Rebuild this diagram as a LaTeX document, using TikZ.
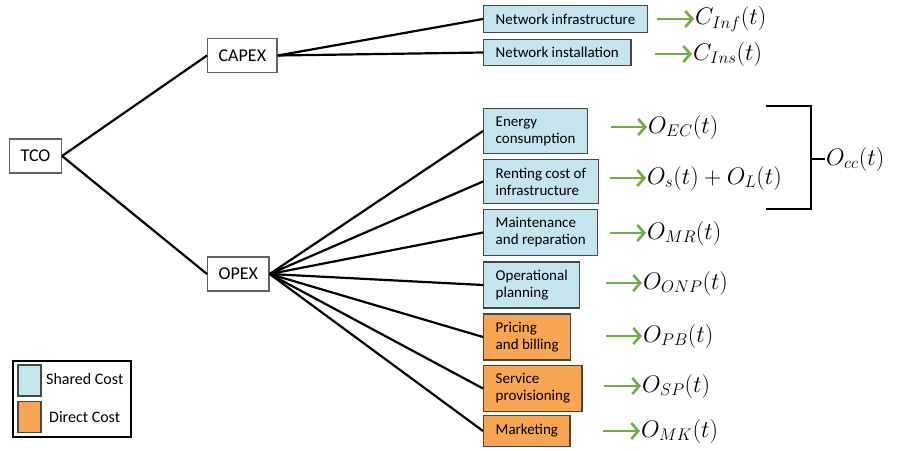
\RequirePackage{fix-cm}
\documentclass[tikz,border=0pt]{standalone}
\usepackage{fontspec}
\setmainfont{Carlito}
\usetikzlibrary{arrows.meta}
\definecolor{sharedBlue}{RGB}{198, 228, 238}
\definecolor{directOrange}{RGB}{248, 166, 84}
\definecolor{arrowGreen}{RGB}{112, 173, 71}
\definecolor{boxBorder}{RGB}{70, 70, 70}

\begin{document}
\begin{tikzpicture}[x=1pt, y=-1pt,
    rootbox/.style={draw=boxBorder!85, line width=1.3pt, fill=white, anchor=west, font=\fontsize{18}{21}\selectfont, inner xsep=11pt, minimum height=34pt},
    costbox/.style={draw=boxBorder, line width=1.4pt, anchor=west, align=left, font=\fontsize{15}{17}\selectfont, inner xsep=12pt, inner ysep=8pt},
    shared/.style={costbox, fill=sharedBlue},
    direct/.style={costbox, fill=directOrange},
    branch/.style={line width=2.2pt},
    formula/.style={anchor=west, inner sep=1pt, font=\fontsize{24}{28}\selectfont},
    toformula/.style={arrowGreen, line width=2.6pt, -{Straight Barb[length=7pt,width=16pt]}},
    swatch/.style={draw=boxBorder, line width=1.2pt, minimum width=23pt, minimum height=31pt}]
    \useasboundingbox (0,0) rectangle (899,450);

    % Root and cost types
    \node[rootbox] (tco) at (9,156) {TCO};
    \node[rootbox] (capex) at (207,55.5) {CAPEX};
    \node[rootbox] (opex) at (207,274) {OPEX};

    % CAPEX items
    \node[shared] (inf) at (483,19) {Network infrastructure};
    \node[shared] (ins) at (483,52.5) {Network installation};

    % OPEX items
    \node[shared] (ec) at (483,131) {Energy\\consumption};
    \node[shared] (rent) at (483,181.5) {Renting cost of\\infrastructure};
    \node[shared] (mr) at (483,232.5) {Maintenance\\and reparation};
    \node[shared] (onp) at (483,285) {Operational\\planning};
    \node[direct] (pb) at (483,337) {Pricing\\and billing};
    \node[direct] (sp) at (483,388.5) {Service\\provisioning};
    \node[direct, minimum height=31pt] (mk) at (483,431) {Marketing};

    % Branches
    \draw[branch] (tco.east) -- (capex.west);
    \draw[branch] (tco.east) -- (opex.west);
    \draw[branch] (capex.east) -- (inf.west);
    \draw[branch] (capex.east) -- (ins.west);
    \draw[branch] (opex.east) -- (ec.west);
    \draw[branch] (opex.east) -- (rent.west);
    \draw[branch] (opex.east) -- (mr.west);
    \draw[branch] (opex.east) -- (onp.west);
    \draw[branch] (opex.east) -- (pb.west);
    \draw[branch] (opex.east) -- (sp.west);
    \draw[branch] (opex.east) -- (mk.west);

    % Cost functions
    \node[formula] (fInf) at (694,19) {$C_{Inf}(t)$};
    \node[formula] (fIns) at (692,54) {$C_{Ins}(t)$};
    \node[formula] (fEC) at (647,127) {$O_{EC}(t)$};
    \node[formula] (fSL) at (646,178) {$O_s(t)+O_L(t)$};
    \node[formula] (fMR) at (646,233) {$O_{MR}(t)$};
    \node[formula] (fONP) at (642,283) {$O_{ONP}(t)$};
    \node[formula] (fPB) at (642,336) {$O_{PB}(t)$};
    \node[formula] (fSP) at (641,386) {$O_{SP}(t)$};
    \node[formula] (fMK) at (640,431) {$O_{MK}(t)$};

    \coordinate (aInf) at (657,19);
    \coordinate (aIns) at (655,54);
    \coordinate (aEC) at (611,127);
    \coordinate (aSL) at (610,178);
    \coordinate (aMR) at (610,233);
    \coordinate (aONP) at (606,283);
    \coordinate (aPB) at (606,336);
    \coordinate (aSP) at (604,386);
    \coordinate (aMK) at (603,431);

    \draw[toformula] (aInf) -- (fInf.west);
    \draw[toformula] (aIns) -- (fIns.west);
    \draw[toformula] (aEC) -- (fEC.west);
    \draw[toformula] (aSL) -- (fSL.west);
    \draw[toformula] (aMR) -- (fMR.west);
    \draw[toformula] (aONP) -- (fONP.west);
    \draw[toformula] (aPB) -- (fPB.west);
    \draw[toformula] (aSP) -- (fSP.west);
    \draw[toformula] (aMK) -- (fMK.west);

    % Bracket for the common cost
    \node[formula] (fCC) at (825,159) {$O_{cc}(t)$};
    \coordinate (brTop) at (766,106);
    \coordinate (brBot) at (766,209);
    \coordinate (brMid) at (811,159);
    \draw[line width=1.2pt] (brTop) -| (brMid) |- (brBot);
    \draw[line width=1.2pt] (brMid) -- (fCC.west);

    % Legend
    \node[draw, line width=1.3pt, minimum width=118pt, minimum height=76pt] (legend) at (72,399) {};
    \node[swatch, fill=sharedBlue] (swShared) at (29.5,380.5) {};
    \node[swatch, fill=directOrange] (swDirect) at (29.5,417) {};
    \node[anchor=west, inner sep=0pt, font=\fontsize{16}{19}\selectfont] (lShared) at (46,379) {Shared Cost};
    \node[anchor=west, inner sep=0pt, font=\fontsize{16}{19}\selectfont] (lDirect) at (49,417) {Direct Cost};
\end{tikzpicture}
\end{document}
